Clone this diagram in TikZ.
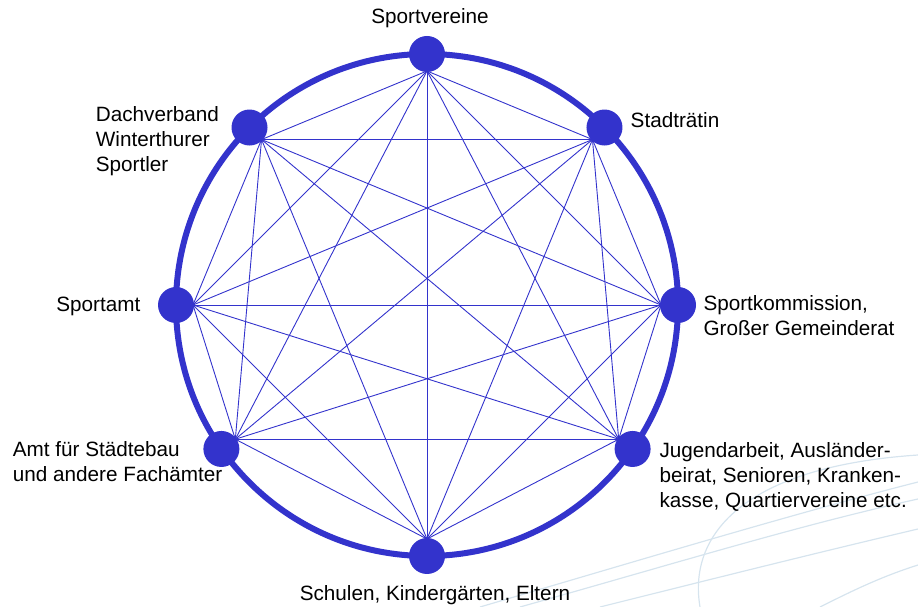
\documentclass[tikz,border=0pt]{standalone}
\usepackage{fontspec}
\setmainfont{Liberation Sans}
\definecolor{netblue}{RGB}{51,51,204}
\definecolor{swirl}{RGB}{214,228,238}
\begin{document}
\begin{tikzpicture}[x=1pt,y=1pt,
  dot/.style={circle,fill=netblue,inner sep=0pt,minimum size=36pt},
  link/.style={draw=netblue,line width=0.9pt},
  ring/.style={draw=netblue,line width=6pt},
  lbl/.style={inner sep=0pt,font=\fontsize{20.7}{25}\selectfont,align=left},
  bgline/.style={draw=swirl,line width=1.2pt}]
\useasboundingbox (0,0) rectangle (918,607);
% faint background swirl
\draw[bgline] (480,0) .. controls (650,50) and (800,95) .. (918,125);
\draw[bgline] (520,0) .. controls (680,45) and (800,82) .. (918,108);
\draw[bgline] (600,0) .. controls (720,30) and (820,55) .. (918,78);
\draw[bgline] (700,0) .. controls (688,70) and (740,140) .. (918,152);
\draw[bgline] (820,0) .. controls (850,15) and (880,30) .. (918,42);
% network
\begin{scope}[shift={(427,302)}]
\coordinate (C) at (0,0);
\draw[ring] (C) circle (251);
\foreach \n/\a in {1/90,2/45,3/0,4/-35,5/-90,6/215,7/180,8/135}{
  \coordinate (i\n) at (\a:234);
}
\foreach \i in {1,...,7}{
  \pgfmathtruncatemacro\k{\i+1}
  \foreach \j in {\k,...,8}{
    \draw[link] (i\i) -- (i\j);
  }
}
\foreach \n/\a in {1/90,2/45,3/0,4/-35,5/-90,6/215,7/180,8/135}{
  \node[dot] (n\n) at (\a:251) {};
}
\end{scope}
% labels (base = baseline of the last line)
\node[lbl,anchor=base] (t1) at (430,583) {Sportvereine};
\node[lbl,anchor=base west] (t2) at (630.5,479) {Stadträtin};
\node[lbl,anchor=base west] (t3) at (703.3,271.3) {Sportkommission,\\Großer Gemeinderat};
\node[lbl,anchor=base west] (t4) at (659.3,99.5) {Jugendarbeit, Ausländer-\\beirat, Senioren, Kranken-\\kasse, Quartiervereine etc.};
\node[lbl,anchor=base] (t5) at (435,6) {Schulen, Kindergärten, Eltern};
\node[lbl,anchor=base west] (t6) at (12.7,125.3) {Amt für Städtebau\\und andere Fachämter};
\node[lbl,anchor=base east] (t7) at (140.5,295.3) {Sportamt};
\node[lbl,anchor=base west] (t8) at (95.7,435.3) {Dachverband\\Winterthurer\\Sportler};
\end{tikzpicture}
\end{document}
